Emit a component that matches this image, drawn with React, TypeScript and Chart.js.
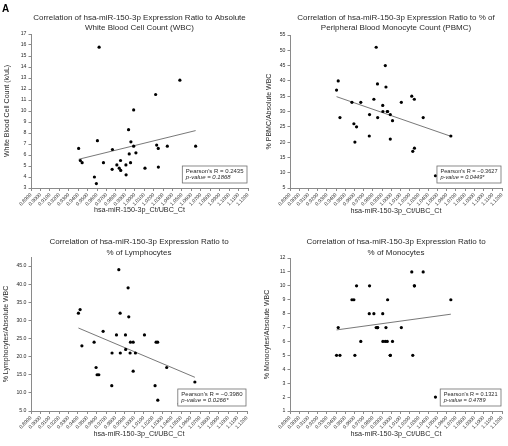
import React, { useEffect, useRef } from "react";
import { Chart, registerables } from "chart.js";

Chart.register(...registerables);

// ---- data ----
const xRatio = [0.9405, 0.9423, 0.9442, 0.9572, 0.9593, 0.9604, 0.9622, 0.9668, 0.9763, 0.976, 0.981, 0.9835, 0.9849, 0.9851, 0.9906, 0.9908, 0.9934, 0.9941, 0.9959, 0.9955, 0.9988, 0.9988, 1.0012, 1.0108, 1.0221, 1.0232, 1.0249, 1.025, 1.0345, 1.0478, 1.0645];
const wbcCount = [6.6, 5.5, 5.3, 4.0, 3.4, 7.3, 15.8, 5.3, 6.5, 4.7, 5.1, 4.8, 5.5, 4.6, 5.1, 4.2, 8.3, 6.1, 7.2, 5.3, 6.8, 10.1, 6.2, 4.8, 11.5, 6.9, 6.6, 4.9, 6.8, 12.8, 6.8];
const pbmcPct = [37, 40, 28, 33, 26, 20, 25, 33, 29, 22, 34, 51, 39, 28, 32, 30, 45, 38, 30, 30, 29, 21, 27, 33, 35, 17, 34, 18, 28, 9, 22];
const lymphPct = [32, 33, 23, 24, 17, 15, 15, 27, 21, 12, 26, 44, 32, 21, 26, 22, 39, 31, 24, 21, 24, 16, 21, 26, 12, 24, 24, 8, 17, 7, 13];
const monoPct = [5, 7, 5, 9, 9, 5, 10, 6, 10, 8, 8, 7, 7, 7, 8, 6, 6, 7, 9, 6, 5, 5, 6, 7, 11, 5, 10, 10, 11, 2, 9];

const trendX = [0.9405, 1.0645];
const wbcTrend = [5.61, 8.22];
const pbmcTrend = [34.85, 21.9];
const lymphTrend = [27.9, 14.3];
const monoTrend = [6.83, 7.96];

const xMin = 0.89;
const xMax = 1.12;
const xStep = 0.01;
const xAxisLabel = "hsa-miR-150-3p_Ct/UBC_Ct";

const panelTitles = [
  ["Correlation of hsa-miR-150-3p Expression Ratio to Absolute", "White Blood Cell Count (WBC)"],
  ["Correlation of hsa-miR-150-3p Expression Ratio to % of", "Peripheral Blood Monocyte Count (PBMC)"],
  ["Correlation of hsa-miR-150-3p Expression Ratio to", "% of Lymphocytes"],
  ["Correlation of hsa-miR-150-3p Expression Ratio to", "% of Monocytes"],
];
const yAxisLabels = ["White Blood Cell Count (k/uL)", "% PBMC/Absolute WBC", "% Lymphocytes/Absolute WBC", "% Monocytes/Absolute WBC"];
const yMins = [3, 5, 5, 1];
const yMaxs = [17, 55, 47.5, 12];
const ySteps = [1, 5, 2.5, 1];
const yDecimals = [0, 0, 1, 0];
const pearsonR = ["0.2435", "\u22120.3627", "\u22120.3980", "0.1321"];
const pValues = ["0.1868", "0.0449*", "0.0266*", "0.4789"];

const FONT = "'Liberation Sans', Arial, Helvetica, sans-serif";
const TEXT = "#2a2a2a";
const AXIS = "#8a8a8a";

type Layout = {
  left: number; top: number; yWidth: number; chartTop: number; padRight: number;
  titleY: number; yTitlePad: number; xTitlePad: number; pFont: number; tag?: string;
};

const layouts: Layout[] = [
  { left: 0, top: 0, yWidth: 31, chartTop: 34, padRight: 6, titleY: 17.3, yTitlePad: 3, xTitlePad: 9, pFont: 6 },
  { left: 254, top: 0, yWidth: 36, chartTop: 35, padRight: 6, titleY: 17.3, yTitlePad: 11, xTitlePad: 8, pFont: 5.6 },
  { left: 0, top: 223, yWidth: 31, chartTop: 34, padRight: 7, titleY: 19, yTitlePad: 2, xTitlePad: 8, pFont: 6 },
  { left: 254, top: 223, yWidth: 36, chartTop: 35, padRight: 6, titleY: 19, yTitlePad: 9, xTitlePad: 8, pFont: 5.6 },
];

const seriesList = [wbcCount, pbmcPct, lymphPct, monoPct];
const trendList = [wbcTrend, pbmcTrend, lymphTrend, monoTrend];

function Panel({ idx }: { idx: number }) {
  const ref = useRef<HTMLCanvasElement | null>(null);
  const L = layouts[idx];
  useEffect(() => {
    if (!ref.current) return;
    const values = seriesList[idx];
    const trend = trendList[idx];
    const overlay = {
      id: "overlay" + idx,
      afterDraw(chart: any) {
        const { ctx, chartArea } = chart;
        ctx.save();
        // title
        ctx.fillStyle = TEXT;
        ctx.font = `8px ${FONT}`;
        ctx.textAlign = "center";
        ctx.textBaseline = "middle";
        const cx = (chartArea.left + chartArea.right) / 2;
        panelTitles[idx].forEach((line, i) => ctx.fillText(line, cx, L.titleY + i * 10.4));
        // stats box
        const l1 = `Pearson's R = ${pearsonR[idx]}`;
        const l2 = `p-value = ${pValues[idx]}`;
        ctx.font = `${L.pFont}px ${FONT}`;
        const w1 = ctx.measureText(l1).width;
        ctx.font = `italic ${L.pFont}px ${FONT}`;
        const w2 = ctx.measureText(l2).width;
        const bw = Math.max(w1, w2) + 7;
        const bh = 17;
        const bx = chartArea.right - 1 - bw;
        const by = chartArea.bottom - 5 - bh;
        ctx.fillStyle = "#ffffff";
        ctx.fillRect(bx, by, bw, bh);
        ctx.strokeStyle = "#6e6e6e";
        ctx.lineWidth = 0.8;
        ctx.strokeRect(bx, by, bw, bh);
        ctx.fillStyle = TEXT;
        ctx.textAlign = "left";
        ctx.font = `${L.pFont}px ${FONT}`;
        ctx.fillText(l1, bx + 3.5, by + 5);
        ctx.font = `italic ${L.pFont}px ${FONT}`;
        ctx.fillText(l2, bx + 3.5, by + 11);
        if (idx === 0) {
          ctx.font = `bold 10px ${FONT}`;
          ctx.textBaseline = "top";
          ctx.fillStyle = "#000";
          ctx.fillText("A", 2, 4);
        }
        ctx.restore();
      },
    };
    const chart = new Chart(ref.current, {
      type: "scatter",
      data: {
        datasets: [
          {
            data: xRatio.map((x, i) => ({ x, y: values[i] })),
            backgroundColor: "#000",
            borderWidth: 0,
            pointRadius: 1.6,
            pointHoverRadius: 1.6,
          },
          {
            data: trendX.map((x, i) => ({ x, y: trend[i] })),
            showLine: true,
            borderColor: "#555",
            borderWidth: 0.8,
            pointRadius: 0,
            fill: false,
          } as any,
        ],
      },
      options: {
        responsive: false,
        animation: false,
        layout: { padding: { top: L.chartTop, right: L.padRight, left: 0, bottom: 0 } },
        plugins: { legend: { display: false }, tooltip: { enabled: false }, title: { display: false } },
        scales: {
          x: {
            type: "linear",
            min: xMin,
            max: xMax,
            ticks: {
              stepSize: xStep,
              autoSkip: false,
              maxRotation: 45,
              minRotation: 45,
              padding: 1,
              color: TEXT,
              font: { size: 5, family: FONT },
              callback: (v: any) => Number(v).toFixed(4),
            },
            grid: { display: true, drawOnChartArea: false, drawTicks: true, tickLength: 3, color: AXIS },
            border: { display: true, color: AXIS, width: 1 },
            title: {
              display: true,
              text: xAxisLabel,
              color: TEXT,
              font: { size: 7.2, family: FONT },
              padding: { top: 0, bottom: L.xTitlePad },
            },
            afterFit: (s: any) => { s.height = 35; },
          },
          y: {
            min: yMins[idx],
            max: yMaxs[idx],
            ticks: {
              stepSize: ySteps[idx],
              padding: 2,
              color: TEXT,
              font: { size: 5.2, family: FONT },
              callback: (v: any) => Number(v).toFixed(yDecimals[idx]),
            },
            grid: { display: true, drawOnChartArea: false, drawTicks: true, tickLength: 2.5, color: AXIS },
            border: { display: true, color: AXIS, width: 1 },
            title: {
              display: true,
              text: yAxisLabels[idx],
              color: TEXT,
              font: { size: 7, family: FONT },
              padding: { top: L.yTitlePad, bottom: 0 },
            },
            afterFit: (s: any) => { s.width = L.yWidth; },
          },
        },
      } as any,
      plugins: [overlay],
    });
    return () => chart.destroy();
  }, [idx]);
  return (
    <canvas
      ref={ref}
      width={254}
      height={223}
      style={{ position: "absolute", left: L.left, top: L.top, width: 254, height: 223 }}
    />
  );
}

export default function App() {
  return (
    <div style={{ position: "fixed", left: 0, top: 0, width: 508, height: 446, background: "#fff" }}>
      {[0, 1, 2, 3].map((i) => (
        <Panel key={i} idx={i} />
      ))}
    </div>
  );
}
